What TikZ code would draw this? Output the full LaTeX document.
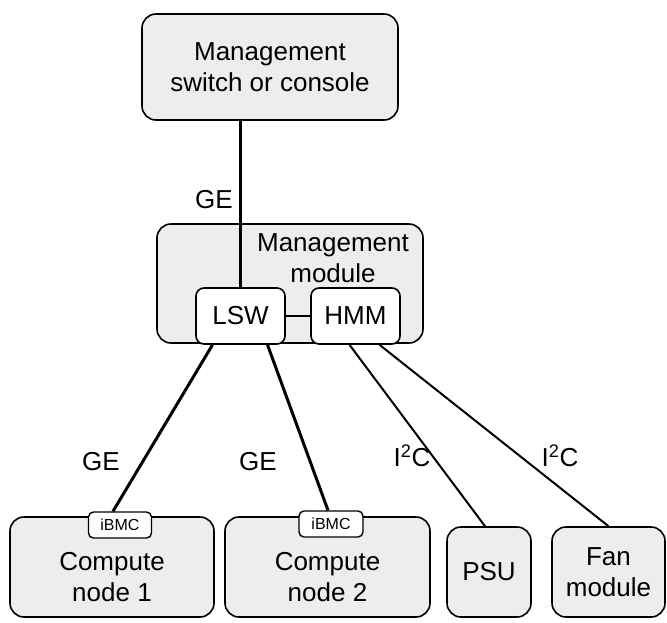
\documentclass[tikz,border=0pt]{standalone}
\usepackage{fontspec}
\setmainfont{Liberation Sans}
\usepackage{tikz}
\tikzset{
  box/.style = {draw=black, line width=1.6pt, fill=black!7, rounded corners=14pt,
    align=center, inner sep=0pt, font=\fontsize{26}{31}\selectfont},
  smallbox/.style = {box, fill=white, rounded corners=8pt},
  tagbox/.style = {box, fill=white, rounded corners=5pt, line width=1.4pt,
    font=\fontsize{16}{18}\selectfont},% iBMC
  txt/.style = {align=center, inner sep=0pt, font=\fontsize{26}{31}\selectfont},
  ge/.style = {line width=3pt},% liaison GE
  bus/.style = {line width=2pt}% liaison I2C
}
\begin{document}
\begin{tikzpicture}[x=1pt,y=-1pt]
\useasboundingbox (0,0) rectangle (667,622);
% boites
\node [box, minimum width=256pt, minimum height=106pt] (console) at (270,67)
  {Management\\switch or console};
\node [box, minimum width=266pt, minimum height=119pt] (mgmt) at (290,283.5) {};
\node [txt] (mgmttext) at (333,258) {Management\\module};
\node [smallbox, minimum width=89pt, minimum height=56pt] (lsw) at (240.5,316) {LSW};
\node [smallbox, minimum width=89pt, minimum height=56pt] (hmm) at (355.5,316) {HMM};
\node [box, minimum width=204pt, minimum height=100pt] (cn1) at (112,567) {};
\node [txt] (cn1text) at (112,577) {Compute\\node 1};
\node [box, minimum width=205pt, minimum height=100pt] (cn2) at (327.5,567) {};
\node [txt] (cn2text) at (327.5,577) {Compute\\node 2};
\node [tagbox, minimum width=63pt, minimum height=26pt] (ibmc1) at (120,525) {iBMC};
\node [tagbox, minimum width=64pt, minimum height=26pt] (ibmc2) at (331,524) {iBMC};
\node [box, minimum width=84pt, minimum height=90pt] (psu) at (489,572) {PSU};
\node [box, minimum width=113pt, minimum height=90pt] (fan) at (608.5,572) {Fan\\module};
% liaisons
\draw [ge] (console.south -| lsw.north) -- (lsw.north);
\draw [bus] (lsw.east) -- (hmm.west);
\draw [ge] ([xshift=-28pt]lsw.south) -- ([xshift=-7pt]ibmc1.north);
\draw [ge] ([xshift=27pt]lsw.south) -- ([xshift=-3pt]ibmc2.north);
\draw [bus] ([xshift=-6pt]hmm.south) -- ([xshift=-4pt]psu.north);
\draw [bus] ([xshift=24pt]hmm.south) -- (fan.north);
% etiquettes
\node [txt] (ge0) at (214,200) {GE};
\node [txt] (ge1) at (101,462) {GE};
\node [txt] (ge2) at (258,462) {GE};
\node [txt] (i2c1) at (412,456) {I\textsuperscript{2}C};
\node [txt] (i2c2) at (560,456) {I\textsuperscript{2}C};
\end{tikzpicture}
\end{document}
